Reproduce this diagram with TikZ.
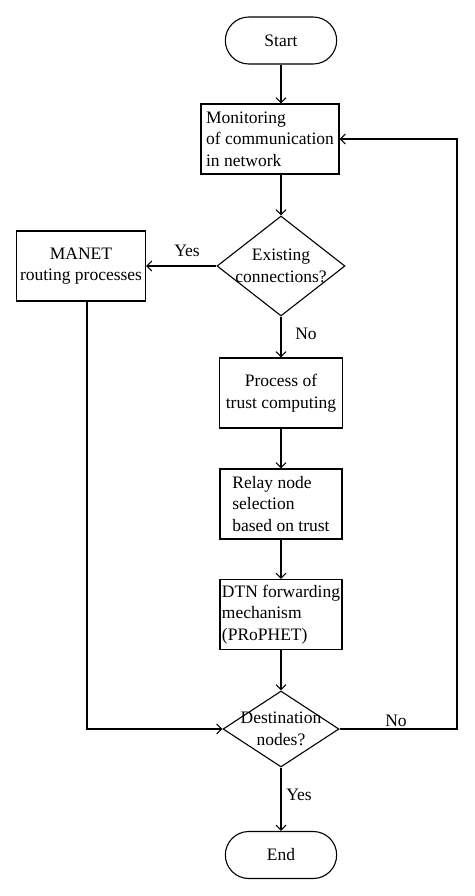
\documentclass[tikz,border=0pt]{standalone}
\usepackage{fontspec}
\setmainfont{Liberation Serif}
\usetikzlibrary{shapes.geometric,shapes.misc,arrows.meta}
\begin{document}
\begin{tikzpicture}[x=1pt,y=-1pt,line width=1.1pt,
		font=\fontsize{17.5}{21.7}\selectfont,
		term/.style={draw,rounded rectangle,minimum width=118pt,minimum height=47pt},
		box/.style={draw,rectangle,minimum height=70pt,inner sep=0pt},
		dec/.style={draw,diamond,inner sep=-14pt,align=center},
		arr/.style={-{Straight Barb[length=5pt,width=10pt]}}]
				  \useasboundingbox (0,0) rectangle (474,896);
				  \node[term] (start) at (281,40.5) {Start};
				  \node[box,minimum width=138pt,align=left] (mon) at (270,139) {Monitoring\\of communication\\in network};
				  \node[dec,minimum width=128pt,minimum height=100pt] (exist) at (281,266) {Existing\\connections?};
				  \node[box,minimum width=129pt,align=center] (manet) at (81,266) {MANET\\routing processes};
				  \node[box,minimum width=123pt,align=center] (trust) at (281,393) {Process of\\trust computing};
				  \node[box,minimum width=122pt,align=left] (relay) at (281,504) {Relay node\\selection\\based on trust};
				  \node[box,minimum width=122pt,align=left] (dtn) at (281,614.5) {DTN forwarding\\mechanism\\(PRoPHET)};
				  \node[dec,minimum width=116pt,minimum height=76pt] (dest) at (281,729) {Destination\\nodes?};
				  \node[term] (end) at (281,855) {End};
				  \coordinate (lt) at (87,729);
				  \coordinate (rt) at (457,139);
				  \draw[arr] (start.south) -- (start.south |- mon.north);
				  \draw[arr] (mon.south -| exist.north) -- (exist.north);
				  \draw[arr] (exist.west) -- (manet.east);
				  \draw[arr] (exist.south) -- (trust.north);
				  \draw[arr] (trust.south) -- (relay.north);
				  \draw[arr] (relay.south) -- (dtn.north);
				  \draw[arr] (dtn.south) -- (dest.north);
				  \draw[arr] (dest.south) -- (end.north);
				  \draw[arr] (manet.south -| lt) -- (lt) -- (dest.west);
				  \draw[arr] (dest.east) -| (rt) -- (mon.east);
				  \node (yes1) at (187,251) {Yes};
				  \node (no1) at (306,334) {No};
				  \node (no2) at (396,721) {No};
				  \node (yes2) at (299,795) {Yes};
				\end{tikzpicture}
\end{document}
